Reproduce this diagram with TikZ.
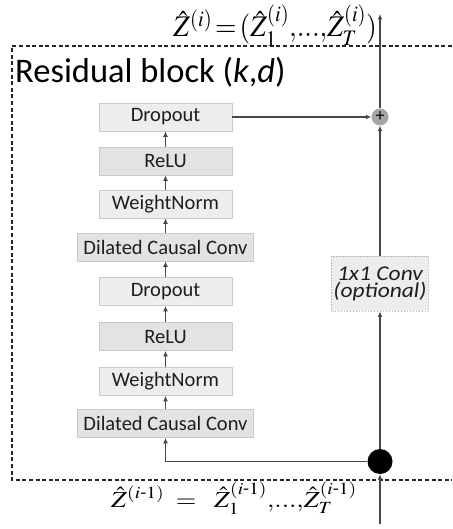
\documentclass[tikz,border=0pt]{standalone}
\usepackage{amsmath}
\usepackage{mathptmx}
\usepackage[no-math]{fontspec}
\setmainfont{Carlito}
\usetikzlibrary{arrows.meta}
\definecolor{ln}{HTML}{474747}
\definecolor{boxA}{HTML}{EDEDED}
\definecolor{boxB}{HTML}{E3E3E3}
\definecolor{boxbd}{HTML}{CACACA}
\definecolor{convbd}{HTML}{B8B8B8}
\definecolor{plusgray}{HTML}{A5A5A5}
\definecolor{txt}{HTML}{1E1E1E}
\newcommand{\dts}{{,}{.}{.}{.}{,}}
\begin{document}
\begin{tikzpicture}[x=1pt,y=-1pt,
  blk/.style={draw=boxbd, fill=boxA, line width=0.8pt, minimum height=28pt,
    minimum width=133pt, inner sep=0pt, text=txt, font=\fontsize{20.5}{22}\selectfont},
  blkd/.style={blk, fill=boxB},
  wide/.style={minimum width=176pt},
  conn/.style={draw=ln, line width=1.4pt, -{Latex[length=5.5pt,width=5pt]}},
  frame/.style={draw=black!85, line width=1.8pt, dash pattern=on 4pt off 2.6pt},
]
\useasboundingbox (0,0) rectangle (452,529);
\draw[frame] (452,46) -- (12,46) -- (12,480) -- (452,480);

\node[anchor=base west, inner sep=0pt, font=\fontsize{34.5}{36}\selectfont] (title) at (15,83)
  {Residual block (\textit{k},\textit{d})};

\node[blk] (do1) at (165.5,117) {Dropout};
\node[blkd] (re1) at (165.5,161) {ReLU};
\node[blk] (wn1) at (165.5,204) {WeightNorm};
\node[blkd,wide] (dc1) at (165.5,247) {Dilated Causal Conv};
\node[blk] (do2) at (165.5,291.5) {Dropout};
\node[blkd] (re2) at (165.5,336.5) {ReLU};
\node[blk] (wn2) at (165.5,381.5) {WeightNorm};
\node[blkd,wide] (dc2) at (165.5,423.5) {Dilated Causal Conv};

\draw[conn] (dc2) -- (wn2);
\draw[conn] (wn2) -- (re2);
\draw[conn] (re2) -- (do2);
\draw[conn] (do2) -- (dc1);
\draw[conn] (dc1) -- (wn1);
\draw[conn] (wn1) -- (re1);
\draw[conn] (re1) -- (do1);

\node[circle, fill=plusgray, minimum size=17pt, inner sep=0pt,
  font=\fontsize{18}{18}\selectfont] (plus) at (380,117) {+};
\node[circle, fill=black, minimum size=25pt, inner sep=0pt] (dot) at (380,461.5) {};
\node[draw=convbd, fill=boxA, dash pattern=on 1.5pt off 1.5pt, line width=0.9pt,
  minimum width=97pt, minimum height=55pt, inner sep=0pt, align=center, text=txt,
  font=\fontsize{21}{17}\selectfont\itshape] (conv) at (380,283.5)
  {\scalebox{1.12}[1]{1x1 Conv}\\\scalebox{1.12}[1]{(optional)}};

\coordinate (top) at (380,14);
\coordinate (bot) at (380,524);

\draw[conn] (bot) -- (dot);
\draw[conn] (dot) -- (conv);
\draw[conn] (conv) -- (plus);
\draw[conn] (plus) -- (top);
\draw[conn] (do1) -- (plus);
\draw[conn] (dot) -| (dc2);

\node[anchor=base east, font=\fontsize{30}{32}\selectfont, inner sep=0pt] (zout) at (377,37)
  {\scalebox{0.92}[1]{$\hat{Z}^{(i)}\!=\!(\hat{Z}^{(i)}_1\dts\hat{Z}^{(i)}_T)$}};
\node[anchor=base west, font=\fontsize{23}{26}\selectfont, inner sep=0pt] (zin) at (111,507)
  {\scalebox{1.15}[1]{$\hat{Z}^{(i\text{-}1)}\;=\;\;\hat{Z}^{(i\text{-}1)}_1\dts\hat{Z}^{(i\text{-}1)}_T$}};
\end{tikzpicture}
\end{document}
